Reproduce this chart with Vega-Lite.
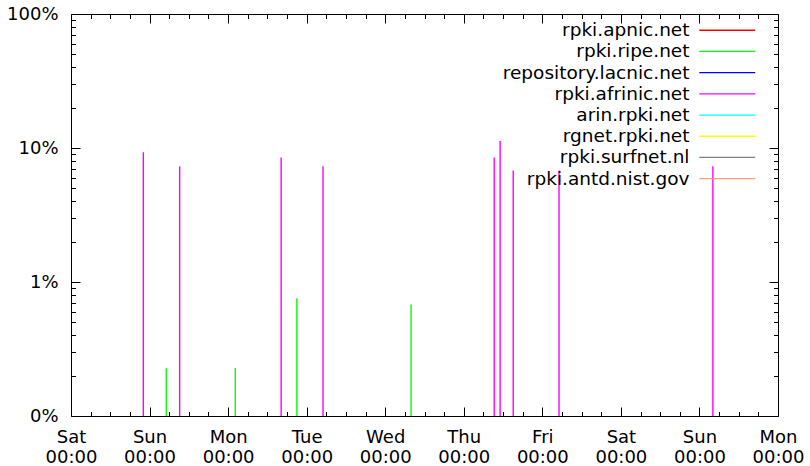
{
  "$schema": "https://vega.github.io/schema/vega-lite/v6.json",
  "width": 707,
  "height": 402,
  "autosize": {"type": "none"},
  "padding": {"left": 71, "top": 14, "right": 32, "bottom": 50},
  "background": "white",
  "config": {
    "view": {"stroke": null},
    "font": "DejaVu Sans",
    "axis": {"grid": false, "domainColor": "black", "tickColor": "black", "labelColor": "black", "labelFont": "DejaVu Sans", "labelFontSize": 18, "titleFontSize": 18}
  },
  "data": {
    "values": [
      {"t": 22.1, "host": "rpki.afrinic.net", "pct": 9.3},
      {"t": 33.2, "host": "rpki.afrinic.net", "pct": 7.3},
      {"t": 64.2, "host": "rpki.afrinic.net", "pct": 8.5},
      {"t": 77.0, "host": "rpki.afrinic.net", "pct": 7.3},
      {"t": 129.3, "host": "rpki.afrinic.net", "pct": 8.5},
      {"t": 131.1, "host": "rpki.afrinic.net", "pct": 11.3},
      {"t": 135.1, "host": "rpki.afrinic.net", "pct": 6.8},
      {"t": 149.1, "host": "rpki.afrinic.net", "pct": 6.8},
      {"t": 196.1, "host": "rpki.afrinic.net", "pct": 7.3},
      {"t": 29.1, "host": "rpki.ripe.net", "pct": 0.227},
      {"t": 50.2, "host": "rpki.ripe.net", "pct": 0.228},
      {"t": 69.0, "host": "rpki.ripe.net", "pct": 0.755},
      {"t": 103.9, "host": "rpki.ripe.net", "pct": 0.68}
    ]
  },
  "resolve": {"axis": {"x": "independent", "y": "independent"}},
  "layer": [
    {
      "mark": {"type": "rule", "opacity": 0},
      "encoding": {
        "x": {"field": "t", "type": "quantitative", "scale": {"domain": [0, 216], "nice": false, "zero": false},
          "axis": {"orient": "bottom", "title": null, "values": [6,12,18,30,36,42,54,60,66,78,84,90,102,108,114,126,132,138,150,156,162,174,180,186,198,204,210], "labels": false, "domain": false, "tickSize": -4.5}},
        "y": {"field": "pct", "type": "quantitative", "scale": {"type": "log", "domain": [0.1, 100], "nice": false},
          "axis": {"orient": "left", "title": null, "values": [0.2,0.3,0.4,0.5,0.6,0.7,0.8,0.9,2,3,4,5,6,7,8,9,20,30,40,50,60,70,80,90], "labels": false, "domain": false, "tickSize": -4.5}}
      }
    },
    {
      "mark": {"type": "rule", "opacity": 0},
      "encoding": {
        "x": {"field": "t", "type": "quantitative",
          "axis": {"orient": "top", "title": null, "values": [0,24,48,72,96,120,144,168,192,216], "labels": false, "domain": true, "tickSize": -9}},
        "y": {"field": "pct", "type": "quantitative",
          "axis": {"orient": "right", "title": null, "values": [0.1,1,10,100], "labels": false, "domain": true, "tickSize": -9}}
      }
    },
    {
      "mark": {"type": "rule", "opacity": 0},
      "encoding": {
        "x": {"field": "t", "type": "quantitative",
          "axis": {"orient": "top", "title": null, "values": [6,12,18,30,36,42,54,60,66,78,84,90,102,108,114,126,132,138,150,156,162,174,180,186,198,204,210], "labels": false, "domain": false, "tickSize": -4.5}},
        "y": {"field": "pct", "type": "quantitative",
          "axis": {"orient": "right", "title": null, "values": [0.2,0.3,0.4,0.5,0.6,0.7,0.8,0.9,2,3,4,5,6,7,8,9,20,30,40,50,60,70,80,90], "labels": false, "domain": false, "tickSize": -4.5}}
      }
    },
    {
      "mark": {"type": "rule", "strokeWidth": 1.4},
      "encoding": {
        "x": {"field": "t", "type": "quantitative",
          "axis": {"orient": "bottom", "title": null, "values": [0,24,48,72,96,120,144,168,192,216], "tickSize": -9, "labelPadding": 21, "labelLineHeight": 20, "labelFlush": false,
            "labelExpr": "[['Sat','Sun','Mon','Tue','Wed','Thu','Fri','Sat','Sun','Mon'][round(datum.value/24)], '00:00']"}},
        "y": {"field": "pct", "type": "quantitative",
          "axis": {"orient": "left", "title": null, "values": [0.1,1,10,100], "tickSize": -9, "labelPadding": 22,
            "labelExpr": "datum.value < 1 ? '0%' : datum.value + '%'"}},
        "y2": {"datum": 0.1},
        "color": {"field": "host", "type": "nominal",
          "scale": {"domain": ["rpki.apnic.net", "rpki.ripe.net", "repository.lacnic.net", "rpki.afrinic.net", "arin.rpki.net", "rgnet.rpki.net", "rpki.surfnet.nl", "rpki.antd.nist.gov"],
                    "range": ["#ff0000", "#00ff00", "#0000ff", "#ff00ff", "#00ffff", "#ffff00", "#808080", "#ffa07a"]},
          "legend": {"title": null, "orient": "none", "legendX": 647, "legendY": 7, "symbolType": "M-5,0H5", "symbolSize": 125, "symbolStrokeWidth": 1.3,
            "labelFontSize": 18.5, "labelFont": "DejaVu Sans", "labelColor": "black", "labelAlign": "right", "labelOffset": -47, "labelLimit": 400, "rowPadding": 2.2, "padding": 0}}
      }
    }
  ]
}
